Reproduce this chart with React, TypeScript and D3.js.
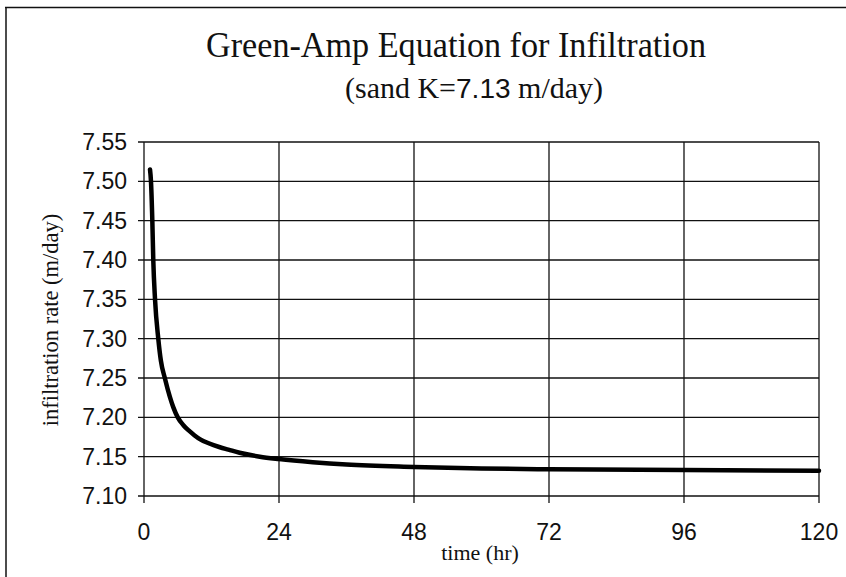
import React from "react";
import * as d3 from "d3";

const hours = [1.07, 1.24, 1.48, 1.65, 1.96, 2.54, 3.0, 3.7, 4.6, 5.2, 6.0, 7.0, 8.0, 9.0, 10, 11.5, 13.5, 15, 17, 20.6, 24, 30, 36, 48, 60, 72, 96, 120];
const rates = [7.515, 7.5, 7.45, 7.4, 7.35, 7.3, 7.272, 7.25, 7.226, 7.213, 7.2, 7.19, 7.183, 7.177, 7.172, 7.167, 7.162, 7.159, 7.155, 7.15, 7.147, 7.143, 7.14, 7.137, 7.135, 7.134, 7.133, 7.132];
const xTicks = [0, 24, 48, 72, 96, 120];
const yTicks = [7.1, 7.15, 7.2, 7.25, 7.3, 7.35, 7.4, 7.45, 7.5, 7.55];

const W = 846, H = 577;
const left = 144, right = 819, top = 142, bottom = 496;

export default function App() {
  const x = d3.scaleLinear().domain([0, 120]).range([left, right]);
  const y = d3.scaleLinear().domain([7.1, 7.55]).range([bottom, top]);
  const pts = hours.map((h, i) => [h, rates[i]] as [number, number]);
  const line = d3.line<[number, number]>().x(d => x(d[0])).y(d => y(d[1])).curve(d3.curveMonotoneX);
  const serif = "'Liberation Serif', 'Times New Roman', serif";
  const sans = "'Liberation Sans', Arial, sans-serif";
  return (
    <svg width={W} height={H} style={{ position: "absolute", left: 0, top: 0, background: "#fff" }}>
      <rect x={0} y={0} width={W} height={H} fill="#fff" />
      <line x1={5} y1={7.5} x2={W} y2={7.5} stroke="#111" strokeWidth={1.5} />
      <line x1={6} y1={7} x2={6} y2={H} stroke="#111" strokeWidth={1.5} />
      <text x={456} y={57} textAnchor="middle" fontFamily={serif} fontSize={35} textLength={500} lengthAdjust="spacingAndGlyphs" fill="#111">Green-Amp Equation for Infiltration</text>
      <text x={474} y={98} textAnchor="middle" fontFamily={serif} fontSize={30} fill="#111">
        (sand K=<tspan fontFamily={sans} fontSize={28}>7.13</tspan> m/day)
      </text>
      {yTicks.map(t => (
        <g key={"y" + t}>
          <line x1={left - 6} x2={right} y1={y(t)} y2={y(t)} stroke="#111" strokeWidth={1.3} />
          <text x={127} y={y(t) + 8} textAnchor="end" fontFamily={sans} fontSize={23} fill="#111">{t.toFixed(2)}</text>
        </g>
      ))}
      {xTicks.map(t => (
        <g key={"x" + t}>
          <line x1={x(t)} x2={x(t)} y1={top} y2={bottom + 7} stroke="#111" strokeWidth={1.3} />
          <text x={x(t)} y={540} textAnchor="middle" fontFamily={sans} fontSize={23} fill="#111">{t}</text>
        </g>
      ))}
      <text transform={`translate(58,320) rotate(-90)`} textAnchor="middle" fontFamily={serif} fontSize={22.5} fill="#111">infiltration rate (m/day)</text>
      <text x={480} y={560} textAnchor="middle" fontFamily={serif} fontSize={22} fill="#111">time (hr)</text>
      <path d={line(pts) || ""} fill="none" stroke="#000" strokeWidth={4.5} strokeLinecap="round" strokeLinejoin="round" />
    </svg>
  );
}
